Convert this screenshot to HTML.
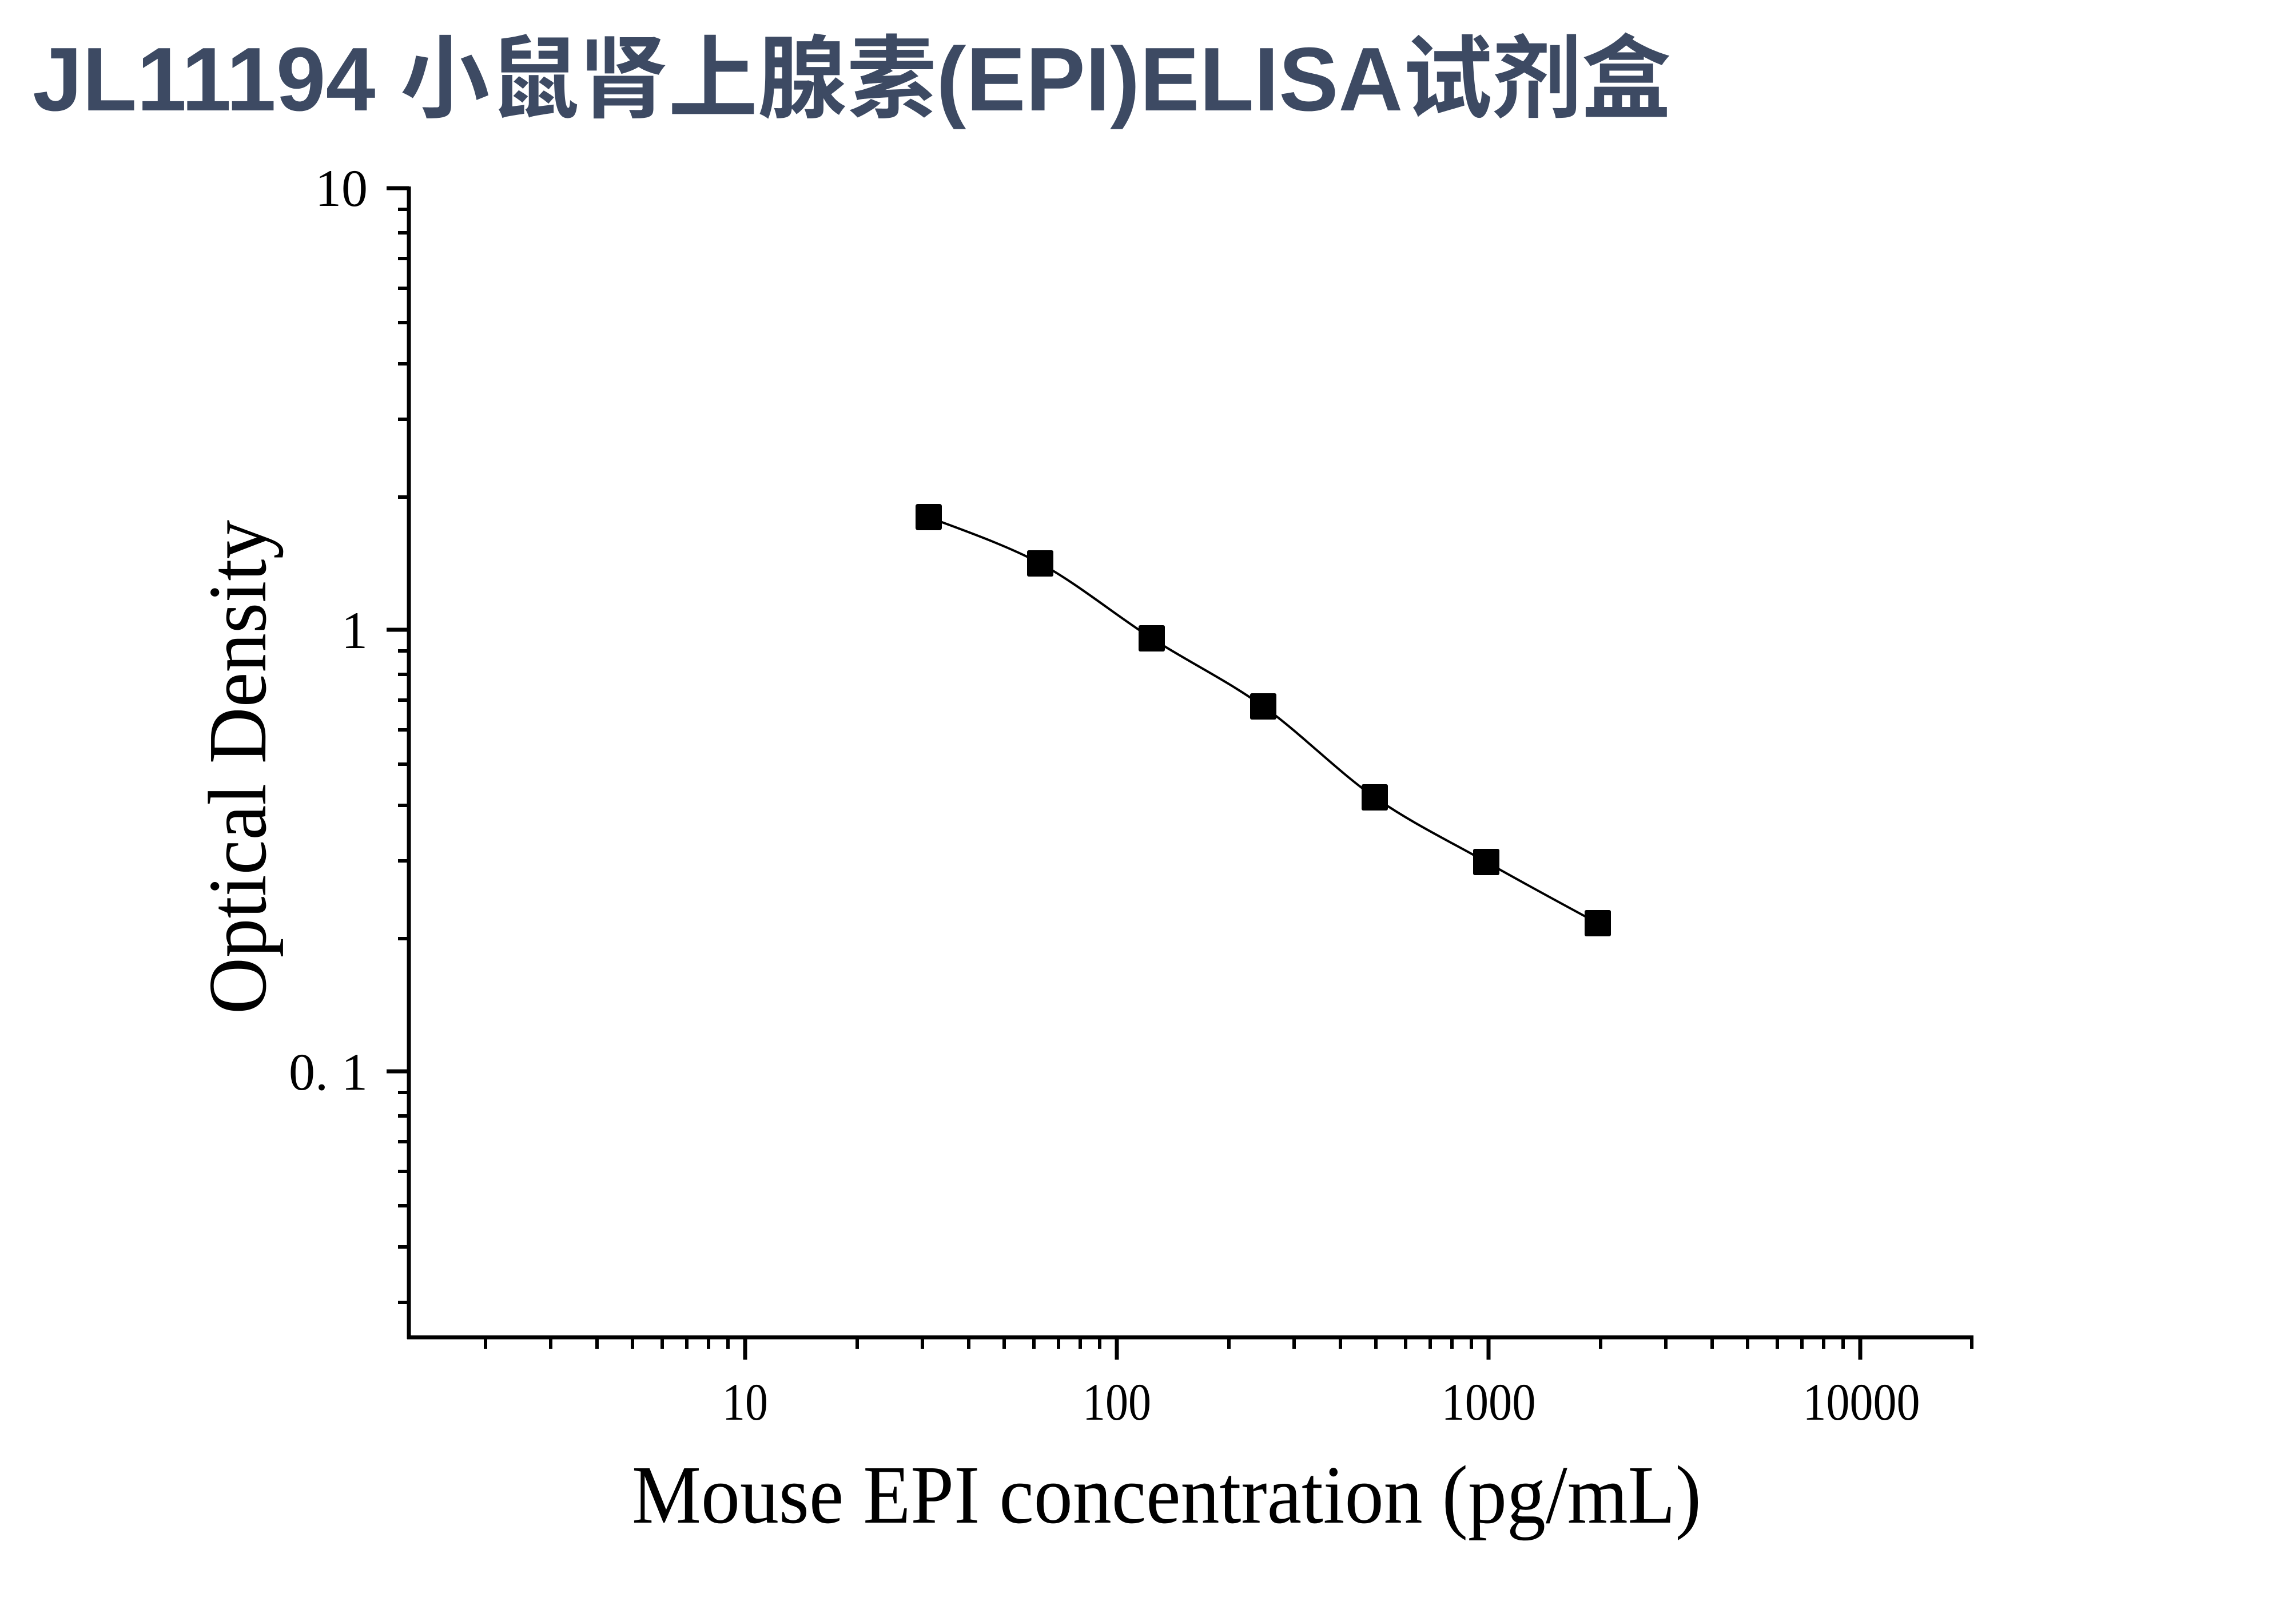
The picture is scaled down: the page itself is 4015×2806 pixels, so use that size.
<!DOCTYPE html>
<html><head><meta charset="utf-8"><style>
html,body{margin:0;padding:0;background:#fff;}
svg{display:block;}
</style></head><body>
<svg width="4015" height="2806" viewBox="0 0 4015 2806" xmlns="http://www.w3.org/2000/svg">
<rect width="4015" height="2806" fill="#fff"/>
<text x="57" y="193" font-family="'Liberation Sans','Noto Sans CJK SC',sans-serif" font-weight="bold" font-size="158" fill="#3d4a63" textLength="2865" lengthAdjust="spacingAndGlyphs">JL11194 小鼠肾上腺素(EPI)ELISA试剂盒</text>
<g stroke="#000" fill="none">
<line x1="715" y1="326" x2="715" y2="2341" stroke-width="7"/>
<line x1="712" y1="2338" x2="3451" y2="2338" stroke-width="7"/>
<line x1="676" y1="329" x2="715" y2="329" stroke-width="7"/>
<line x1="676" y1="1101" x2="715" y2="1101" stroke-width="7"/>
<line x1="676" y1="1873" x2="715" y2="1873" stroke-width="7"/>
<g stroke-width="6">
<line x1="696" y1="366" x2="715" y2="366"/><line x1="696" y1="407" x2="715" y2="407"/><line x1="696" y1="452" x2="715" y2="452"/><line x1="696" y1="504" x2="715" y2="504"/><line x1="696" y1="564" x2="715" y2="564"/><line x1="696" y1="636" x2="715" y2="636"/><line x1="696" y1="733" x2="715" y2="733"/><line x1="696" y1="869" x2="715" y2="869"/>
<line x1="696" y1="1138" x2="715" y2="1138"/><line x1="696" y1="1179" x2="715" y2="1179"/><line x1="696" y1="1224" x2="715" y2="1224"/><line x1="696" y1="1276" x2="715" y2="1276"/><line x1="696" y1="1336" x2="715" y2="1336"/><line x1="696" y1="1408" x2="715" y2="1408"/><line x1="696" y1="1505" x2="715" y2="1505"/><line x1="696" y1="1641" x2="715" y2="1641"/>
<line x1="696" y1="1910" x2="715" y2="1910"/><line x1="696" y1="1951" x2="715" y2="1951"/><line x1="696" y1="1996" x2="715" y2="1996"/><line x1="696" y1="2048" x2="715" y2="2048"/><line x1="696" y1="2108" x2="715" y2="2108"/><line x1="696" y1="2180" x2="715" y2="2180"/><line x1="696" y1="2277" x2="715" y2="2277"/>
</g>
<g stroke-width="7">
<line x1="1303" y1="2338" x2="1303" y2="2377"/><line x1="1953" y1="2338" x2="1953" y2="2377"/><line x1="2603" y1="2338" x2="2603" y2="2377"/><line x1="3253" y1="2338" x2="3253" y2="2377"/>
</g>
<g stroke-width="6">
<line x1="849" y1="2338" x2="849" y2="2358"/><line x1="963" y1="2338" x2="963" y2="2358"/><line x1="1044" y1="2338" x2="1044" y2="2358"/><line x1="1106" y1="2338" x2="1106" y2="2358"/><line x1="1158" y1="2338" x2="1158" y2="2358"/><line x1="1201" y1="2338" x2="1201" y2="2358"/><line x1="1239" y1="2338" x2="1239" y2="2358"/><line x1="1273" y1="2338" x2="1273" y2="2358"/>
<line x1="1499" y1="2338" x2="1499" y2="2358"/><line x1="1613" y1="2338" x2="1613" y2="2358"/><line x1="1694" y1="2338" x2="1694" y2="2358"/><line x1="1756" y1="2338" x2="1756" y2="2358"/><line x1="1808" y1="2338" x2="1808" y2="2358"/><line x1="1851" y1="2338" x2="1851" y2="2358"/><line x1="1889" y1="2338" x2="1889" y2="2358"/><line x1="1923" y1="2338" x2="1923" y2="2358"/>
<line x1="2149" y1="2338" x2="2149" y2="2358"/><line x1="2263" y1="2338" x2="2263" y2="2358"/><line x1="2344" y1="2338" x2="2344" y2="2358"/><line x1="2406" y1="2338" x2="2406" y2="2358"/><line x1="2458" y1="2338" x2="2458" y2="2358"/><line x1="2501" y1="2338" x2="2501" y2="2358"/><line x1="2539" y1="2338" x2="2539" y2="2358"/><line x1="2573" y1="2338" x2="2573" y2="2358"/>
<line x1="2799" y1="2338" x2="2799" y2="2358"/><line x1="2913" y1="2338" x2="2913" y2="2358"/><line x1="2994" y1="2338" x2="2994" y2="2358"/><line x1="3056" y1="2338" x2="3056" y2="2358"/><line x1="3108" y1="2338" x2="3108" y2="2358"/><line x1="3151" y1="2338" x2="3151" y2="2358"/><line x1="3189" y1="2338" x2="3189" y2="2358"/><line x1="3223" y1="2338" x2="3223" y2="2358"/>
<line x1="3448" y1="2338" x2="3448" y2="2358"/>
</g>
<path d="M1624,904 C1656.5,917.5 1754,949.7 1819,985 C1884,1020.3 1949,1074.3 2014,1116 C2079,1157.7 2144,1188.7 2209,1235 C2274,1281.3 2339,1348.7 2404,1394 C2469,1439.3 2534,1470.3 2599,1507 C2664,1543.7 2761,1596.2 2794,1614" stroke-width="4"/>
</g>
<g fill="#000">
<rect x="1601" y="881" width="46" height="46" rx="4"/>
<rect x="1796" y="962" width="46" height="46" rx="3"/>
<rect x="1991" y="1093" width="46" height="46" rx="3"/>
<rect x="2186" y="1212" width="46" height="46" rx="3"/>
<rect x="2381" y="1371" width="46" height="46" rx="3"/>
<rect x="2576" y="1484" width="46" height="46" rx="3"/>
<rect x="2771" y="1591" width="46" height="46" rx="3"/>
</g>
<g font-family="'Liberation Serif',serif" font-size="92" fill="#000">
<text x="643" y="360" text-anchor="end">10</text>
<text x="643" y="1133" text-anchor="end">1</text>
<text x="643" y="1905" text-anchor="end">0. 1</text>
<text x="1303" y="2482" text-anchor="middle" textLength="80" lengthAdjust="spacingAndGlyphs">10</text>
<text x="1953" y="2482" text-anchor="middle" textLength="120" lengthAdjust="spacingAndGlyphs">100</text>
<text x="2603" y="2482" text-anchor="middle" textLength="165" lengthAdjust="spacingAndGlyphs">1000</text>
<text x="3255" y="2482" text-anchor="middle" textLength="205" lengthAdjust="spacingAndGlyphs">10000</text>
</g>
<text x="1105" y="2662" font-family="'Liberation Serif',serif" font-size="145" textLength="1870" lengthAdjust="spacingAndGlyphs">Mouse EPI concentration (pg/mL)</text>
<text transform="translate(464,1341) rotate(-90)" x="0" y="0" font-family="'Liberation Serif',serif" font-size="145" text-anchor="middle" textLength="864" lengthAdjust="spacingAndGlyphs">Optical Density</text>
</svg>
</body></html>
